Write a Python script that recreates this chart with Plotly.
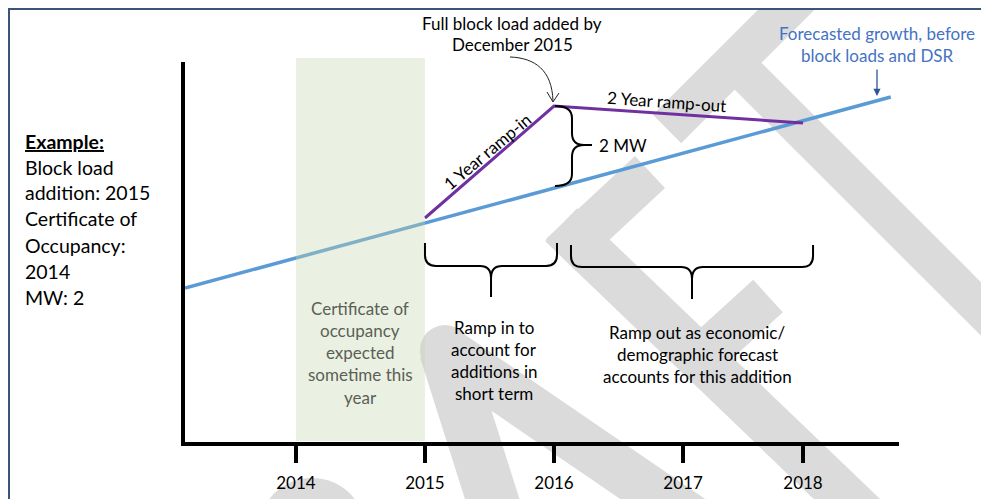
import math
import plotly.graph_objects as go

# forecast growth, before block loads and DSR (MW)
fcst_years = [2013.14, 2018.61]
fcst_mw = [3.85, 8.625]

# block load: 1 year ramp-in, 2 year ramp-out (MW)
block_years = [2015, 2016, 2017.93]
block_mw = [5.6, 8.4, 7.975]

# certificate of occupancy window
occ_start, occ_end = 2014, 2015

tick_pos = [2014, 2015, 2016, 2017, 2017.93]
tick_text = ['2014', '2015', '2016', '2017', '2018']

example_lines = ['Example:', 'Block load', 'addition: 2015', 'Certificate of',
                 'Occupancy:', '2014', 'MW: 2']
occ_lines = ['Certificate of', 'occupancy', 'expected', 'sometime this', 'year']
ramp_in_lines = ['Ramp in to', 'account for', 'additions in', 'short term']
ramp_out_lines = ['Ramp out as economic/', 'demographic forecast',
                  'accounts for this addition']

FONT = 'Lato'
OFF = 8                      # page body margin
W, H = 989, 499
L, T, PW, PH = 185 - OFF, 62 - OFF, 714, 380
FS = 17


def px(x, y):
    # screen pixel position -> paper coords
    return (x - OFF - L) / PW, (T + PH - (y - OFF)) / PH


def svg(s):
    out, nums = [], []
    for tok in s.split():
        if tok.isalpha():
            out.append(tok)
        else:
            nums.append(float(tok))
            if len(nums) == 2:
                a, b = px(*nums)
                out.append(f'{a:.4f},{b:.4f}')
                nums = []
    return ' '.join(out)


def poly(points):
    return svg('M ' + ' L '.join(f'{x} {y}' for x, y in points) + ' Z')


def band(p0, p1, w, ext0=0.0, ext1=0.0):
    dx, dy = p1[0] - p0[0], p1[1] - p0[1]
    n = math.hypot(dx, dy)
    ux, uy = dx / n, dy / n
    nx, ny = -uy * w / 2, ux * w / 2
    a = (p0[0] - ux * ext0, p0[1] - uy * ext0)
    b = (p1[0] + ux * ext1, p1[1] + uy * ext1)
    return [(a[0] + nx, a[1] + ny), (b[0] + nx, b[1] + ny),
            (b[0] - nx, b[1] - ny), (a[0] - nx, a[1] - ny)]


fig = go.Figure()

fig.add_trace(go.Scatter(x=fcst_years, y=fcst_mw, mode='lines',
                         line=dict(color='#5B9BD5', width=3.5), hoverinfo='skip'))
fig.add_trace(go.Scatter(x=block_years, y=block_mw, mode='lines',
                         line=dict(color='#7030A0', width=3), hoverinfo='skip'))

shapes = []

# background watermark
wm = '#DBDBDB'
wm_bands = [
    band((667, 129), (805, -9), 40),
    band((734, 62), (1100, 428), 38),
    band((650, 172), (577, 240), 44, 0, 22),
    band((577, 240), (900, 550), 46, 22, 0),
    band((700, 358), (768, 296), 44),
    band((445, 350), (502, 530), 52),
    band((445, 350), (708, 530), 48),
]
for b in wm_bands:
    shapes.append(dict(type='path', path=poly(b), xref='paper', yref='paper',
                       fillcolor=wm, line=dict(width=0), layer='below'))
for cx, cy, r in [(445, 350, 25), (312, 532, 54)]:
    x0, y0 = px(cx - r, cy + r)
    x1, y1 = px(cx + r, cy - r)
    shapes.append(dict(type='circle', xref='paper', yref='paper', x0=x0, y0=y0,
                       x1=x1, y1=y1, fillcolor=wm, line=dict(width=0), layer='below'))

# certificate of occupancy band
shapes.append(dict(type='rect', xref='x', yref='paper', x0=occ_start, x1=occ_end,
                   y0=px(0, 441)[1], y1=px(0, 58)[1], fillcolor='#C6D7AC',
                   opacity=0.35, line=dict(width=0), layer='above'))

# braces
brace_paths = [
    'M 555 106 Q 572 106 572 118 L 572 133 Q 572 145 584 145 L 592 145 '
    'M 584 145 Q 572 145 572 157 L 572 174 Q 572 186 555 186',
    'M 425 243 L 425 255 Q 425 266 436 266 L 480 266 Q 491 266 491 278 L 491 297 '
    'M 491 278 Q 491 266 502 266 L 546 266 Q 557 266 557 255 L 557 243',
    'M 571 245 L 571 256 Q 571 267 582 267 L 681 267 Q 692 267 692 279 L 692 299 '
    'M 692 279 Q 692 267 703 267 L 802 267 Q 813 267 813 256 L 813 245',
]
for p in brace_paths:
    shapes.append(dict(type='path', path=svg(p), xref='paper', yref='paper',
                       line=dict(color='black', width=2)))

# curved pointer to the peak
shapes.append(dict(type='path', path=svg('M 510 57 C 535 58 552 70 553 101'),
                   xref='paper', yref='paper', line=dict(color='#222222', width=1)))
shapes.append(dict(type='path', path=svg('M 547 92 L 553 102 L 559 93'),
                   xref='paper', yref='paper', line=dict(color='#222222', width=1)))

# outer frame
fx0, fy0 = px(9, 9)
fx1, fy1 = px(1010, 520)
shapes.append(dict(type='rect', xref='paper', yref='paper', x0=fx0, y0=fy1,
                   x1=fx1, y1=fy0, line=dict(color='#3B5579', width=2)))

ann = []


def text(x, y, s, size=FS, color='black', anchor='center', angle=0, **font):
    a, b = px(x, y)
    ann.append(dict(x=a, y=b, xref='paper', yref='paper', text=s, showarrow=False,
                    xanchor=anchor, yanchor='middle', textangle=angle,
                    font=dict(family=FONT, size=size, color=color, **font)))


for i, s in enumerate(example_lines):
    if i == 0:
        text(23, 141, s, size=19.5, anchor='left', weight='bold', lineposition='under')
    else:
        text(23, 141 + 26 * i, s, size=19.5, anchor='left')

for i, s in enumerate(occ_lines):
    text(360, 308 + 22.3 * i, s, color='#5A5F57')
for i, s in enumerate(ramp_in_lines):
    text(494, 327 + 22.2 * i, s)
for i, s in enumerate(ramp_out_lines):
    text(697, 332 + 22 * i, s)

text(512, 23, 'Full block load added by')
text(512, 45, 'December 2015')
text(877, 33, 'Forecasted growth, before', color='#4472C4')
text(877, 55, 'block loads and DSR', color='#4472C4')
text(666, 101, '2 Year ramp-out', angle=4)
text(487, 151, '1 Year ramp-in', angle=-40)
text(597, 145, '2 MW', anchor='left')

ha, hb = px(877, 96)
ann.append(dict(x=ha, y=hb, xref='paper', yref='paper', text='', showarrow=True,
                ax=0, ay=-28, arrowhead=2, arrowsize=1.1, arrowwidth=1.3,
                arrowcolor='#2F5597'))

fig.update_layout(
    width=W, height=H,
    margin=dict(l=L, r=W - L - PW, t=T, b=H - T - PH, pad=0),
    paper_bgcolor='white',
    plot_bgcolor='rgba(0,0,0,0)',
    showlegend=False,
    shapes=shapes,
    annotations=ann,
    xaxis=dict(range=[2013.14, 2018.674], showgrid=False, zeroline=False,
               showline=True, linecolor='black', linewidth=4,
               ticks='outside', ticklen=17, tickwidth=4, tickcolor='black',
               tickvals=tick_pos, ticktext=tick_text, ticklabelstandoff=6,
               tickfont=dict(family=FONT, size=FS, color='black')),
    yaxis=dict(range=[0, 9.5], showgrid=False, zeroline=False,
               showline=True, linecolor='black', linewidth=4,
               showticklabels=False, ticks=''),
)

fig.write_html('out.html')
